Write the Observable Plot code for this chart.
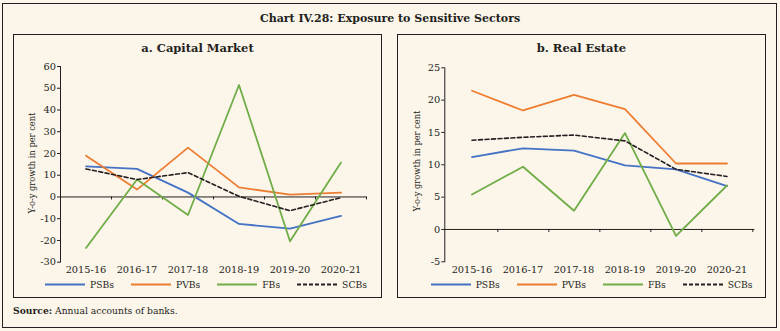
<!DOCTYPE html>
<html>
<head>
<meta charset="utf-8">
<script src="https://cdn.jsdelivr.net/npm/d3@7"></script>
<script src="https://cdn.jsdelivr.net/npm/@observablehq/plot@0.6"></script>
<style>
  html, body { margin: 0; padding: 0; background: #FBF5EA; }
  #page { position: relative; width: 780px; height: 331px; background: #FBF5EA; font-family: "DejaVu Serif", serif; color: #231F20; overflow: hidden; }
  .abs { position: absolute; }
  .frame { border: 1.5px solid #231F20; box-sizing: border-box; }
  .panel { border: 1px solid #231F20; box-sizing: border-box; }
  .title { font-weight: bold; font-size: 11px; text-align: center; white-space: nowrap; }
  .ptitle { font-weight: bold; font-size: 11.5px; text-align: center; white-space: nowrap; }
  .ylab { font-size: 8.3px; white-space: nowrap; transform: translate(-50%, -50%) rotate(-90deg); }
  .legend { display: flex; gap: 17px; font-size: 9.2px; align-items: center; white-space: nowrap; }
  .legend .item { display: flex; align-items: center; gap: 5px; }
  .source { font-size: 9.2px; white-space: nowrap; }
</style>
</head>
<body>
<div id="page"></div>
<script>
// ---------- data ----------
const years = ["2015-16", "2016-17", "2017-18", "2018-19", "2019-20", "2020-21"];
const seriesNames = ["PSBs", "PVBs", "FBs", "SCBs"];
const seriesColors = ["#4472C4", "#ED7D31", "#70AD47", "#231F20"];

// a. Capital Market (y-o-y growth, per cent)
const capPSBs = [14.1, 12.9, 2.0, -12.4, -14.6, -8.7];
const capPVBs = [19.0, 3.4, 22.7, 4.4, 1.1, 2.0];
const capFBs  = [-23.5, 8.0, -8.3, 51.5, -20.4, 15.8];
const capSCBs = [12.9, 8.0, 11.2, 0.3, -6.3, -0.3];
const capTicks = [-30, -20, -10, 0, 10, 20, 30, 40, 50, 60];

// b. Real Estate (y-o-y growth, per cent)
const rePSBs = [11.2, 12.55, 12.2, 9.9, 9.3, 6.7];
const rePVBs = [21.45, 18.4, 20.8, 18.6, 10.2, 10.2];
const reFBs  = [5.4, 9.7, 2.9, 14.9, -1.0, 6.8];
const reSCBs = [13.8, 14.25, 14.6, 13.7, 9.3, 8.2];
const reTicks = [-5, 0, 5, 10, 15, 20, 25];

const chartTitle = "Chart IV.28: Exposure to Sensitive Sectors";
const panelTitles = ["a. Capital Market", "b. Real Estate"];
const yLabel = "Y-o-y growth in per cent";
const sourceBold = "Source:";
const sourceText = " Annual accounts of banks.";

// ---------- helpers ----------
const page = document.getElementById("page");
function el(cls, style, html) {
  const d = document.createElement("div");
  d.className = cls;
  Object.assign(d.style, style);
  if (html !== undefined) d.innerHTML = html;
  page.appendChild(d);
  return d;
}
function rows(vals, name) { return years.map((y, i) => ({ year: y, value: vals[i], series: name })); }

function panel({ left, marginLeft, marginRight, marginTop, marginBottom, ticks, data }) {
  const W = 390, H = 331;
  const [ymin, ymax] = d3.extent(ticks);
  const plotH = H - marginTop - marginBottom;
  const plotW = W - marginLeft - marginRight;
  const bw = plotW / years.length;
  const tickLen = 3 * (ymax - ymin) / plotH;
  const solid = data.filter(d => d.series !== "SCBs");
  const dashed = data.filter(d => d.series === "SCBs");
  const svg = Plot.plot({
    width: W, height: H,
    marginLeft, marginRight, marginTop, marginBottom,
    style: { background: "transparent", fontFamily: "'DejaVu Serif', serif", fontSize: "9.8px", color: "#231F20", overflow: "visible" },
    x: { type: "band", domain: years, padding: 0, label: null },
    y: { domain: [ymin, ymax], label: null },
    color: { domain: seriesNames, range: seriesColors },
    marks: [
      Plot.axisY({ ticks, tickSize: 3, tickPadding: 1.5, label: null, tickFormat: d => String(d), stroke: "#231F20" }),
      Plot.axisX({ tickSize: 0, tickPadding: 4, label: null }),
      Plot.frame({ anchor: "left", stroke: "#231F20", strokeWidth: 1 }),
      Plot.ruleY([0], { stroke: "#231F20", strokeWidth: 1 }),
      Plot.ruleX(years, { x: d => d, y1: 0, y2: -tickLen, dx: bw / 2, stroke: "#231F20", strokeWidth: 1 }),
      Plot.line(solid, { x: "year", y: "value", z: "series", stroke: "series", strokeWidth: 1.8 }),
      Plot.line(dashed, { x: "year", y: "value", stroke: "#231F20", strokeWidth: 1.6, strokeDasharray: "4,2.5" })
    ]
  });
  svg.style.position = "absolute";
  svg.style.left = left + "px";
  svg.style.top = "0px";
  page.appendChild(svg);
}

function legend(left, top) {
  const items = seriesNames.map((n, i) => {
    const dash = n === "SCBs" ? ' stroke-dasharray="4,2"' : "";
    return `<div class="item"><svg width="40" height="4"><line x1="0" y1="2" x2="40" y2="2" stroke="${seriesColors[i]}" stroke-width="2"${dash}/></svg><span>${n}</span></div>`;
  }).join("");
  const d = el("abs legend", { left: left + "px", top: top + "px" }, items);
  d.style.transform = "translateY(-50%)";
}

// ---------- layout ----------
el("abs frame", { left: "2px", top: "3px", width: "775px", height: "325px" });
el("abs title", { left: "0px", width: "780px", top: "12px" }, chartTitle);
el("abs panel", { left: "13px", top: "34px", width: "369px", height: "264px" });
el("abs panel", { left: "397px", top: "34px", width: "369px", height: "264px" });
el("abs ptitle", { left: "13px", width: "369px", top: "41px" }, panelTitles[0]);
el("abs ptitle", { left: "397px", width: "369px", top: "41px" }, panelTitles[1]);
el("abs ylab", { left: "32px", top: "163px" }, yLabel);
el("abs ylab", { left: "417px", top: "161px" }, yLabel);

panel({
  left: 0, marginLeft: 60, marginRight: 23.7, marginTop: 66, marginBottom: 69.3, ticks: capTicks,
  data: [...rows(capPSBs, "PSBs"), ...rows(capPVBs, "PVBs"), ...rows(capFBs, "FBs"), ...rows(capSCBs, "SCBs")]
});
panel({
  left: 390, marginLeft: 54.3, marginRight: 25.7, marginTop: 67.3, marginBottom: 69.7, ticks: reTicks,
  data: [...rows(rePSBs, "PSBs"), ...rows(rePVBs, "PVBs"), ...rows(reFBs, "FBs"), ...rows(reSCBs, "SCBs")]
});

legend(45, 284);
legend(430.7, 284);
el("abs source", { left: "13px", top: "305px" }, `<b>${sourceBold}</b>${sourceText}`);
</script>
</body>
</html>
